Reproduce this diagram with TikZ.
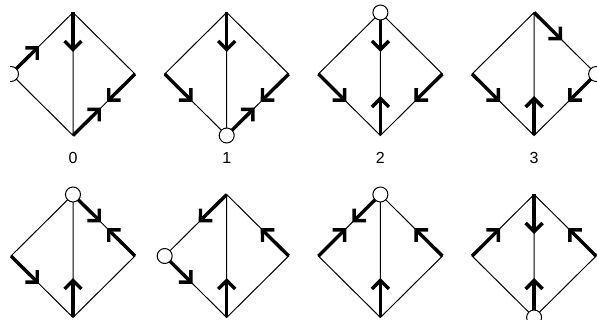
\documentclass[tikz,border=0pt]{standalone}
\usepackage{fontspec}
\setmainfont{Liberation Sans}
\usetikzlibrary{calc}
\tikzset{
  thinl/.style={line width=1pt, black},
  thickl/.style={line width=3.4pt, black, line cap=butt},
  headl/.style={line width=3.4pt, black, line join=miter, line cap=butt},
  vcirc/.style={circle, draw, line width=1pt, fill=white, minimum size=15pt, inner sep=0pt},
  lab/.style={font=\fontsize{16}{18}\selectfont, inner sep=0pt}
}
\newcommand\diam[3]{%
  \coordinate (#1T) at (#2,#3-61.5);
  \coordinate (#1B) at (#2,#3+61.5);
  \coordinate (#1L) at (#2-62,#3);
  \coordinate (#1R) at (#2+62,#3);
  \draw[thinl] (#1T) -- (#1R) -- (#1B) -- (#1L) -- cycle (#1T) -- (#1B);
}
\newcommand\harr[2]{%
  \coordinate (tmptip) at ($(#1)!37pt!(#2)$);
  \draw[thickl] (#1) -- (tmptip);
  \draw[headl] ($(tmptip)!12pt!45:(#1)$) -- (tmptip) -- ($(tmptip)!12pt!-45:(#1)$);
}
\begin{document}
\begin{tikzpicture}[x=1pt,y=-1pt]
\useasboundingbox (0,0) rectangle (597,320);
\begin{scope}
\clip (10,0) rectangle (597,320);
% row 1
\diam{a}{73}{74}
\diam{b}{226.7}{74}
\diam{c}{380.4}{74}
\diam{d}{534.1}{74}
% row 2
\diam{e}{73}{256}
\diam{f}{226.7}{256}
\diam{g}{380.4}{256}
\diam{h}{534.1}{256}
% arrows diamond 0
\harr{aT}{aB}\harr{aL}{aT}\harr{aR}{aB}\harr{aB}{aR}
% diamond 1
\harr{bT}{bB}\harr{bL}{bB}\harr{bR}{bB}\harr{bB}{bR}
% diamond 2
\harr{cT}{cB}\harr{cB}{cT}\harr{cL}{cB}\harr{cR}{cB}
% diamond 3
\harr{dT}{dR}\harr{dL}{dB}\harr{dB}{dT}\harr{dR}{dB}
% diamond 4
\harr{eT}{eR}\harr{eR}{eT}\harr{eL}{eB}\harr{eB}{eT}
% diamond 5
\harr{fT}{fL}\harr{fL}{fB}\harr{fR}{fT}\harr{fB}{fT}
% diamond 6
\harr{gT}{gL}\harr{gL}{gT}\harr{gR}{gT}\harr{gB}{gT}
% diamond 7
\harr{hT}{hB}\harr{hL}{hT}\harr{hR}{hT}\harr{hB}{hT}
% circles
\node[vcirc] (ca) at (aL) {};
\node[vcirc] (cb) at (bB) {};
\node[vcirc] (cc) at (cT) {};
\node[vcirc] (cd) at (dR) {};
\node[vcirc] (ce) at (eT) {};
\node[vcirc] (cf) at (fL) {};
\node[vcirc] (cg) at (gT) {};
\node[vcirc] (ch) at (hB) {};
% labels
\node[lab] (la) at (73,158) {0};
\node[lab] (lb) at (226.7,158) {1};
\node[lab] (lc) at (380.4,158) {2};
\node[lab] (ld) at (534.1,158) {3};
\end{scope}
\end{tikzpicture}
\end{document}
